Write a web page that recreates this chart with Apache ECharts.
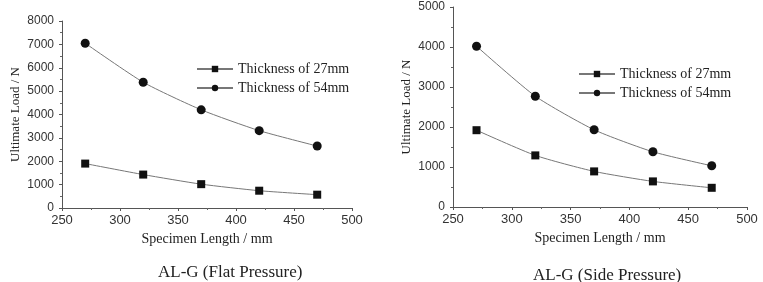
<!DOCTYPE html>
<html>
<head>
<meta charset="utf-8">
<script src="https://cdn.jsdelivr.net/npm/echarts@6/dist/echarts.min.js"></script>
<style>
  html, body { margin: 0; padding: 0; background: #fff; }
  #chart { width: 763px; height: 282px; }
</style>
</head>
<body>
<div id="chart"></div>
<script>
const lengths = [270, 320, 370, 420, 470]
const flat27 = [1900, 1430, 1020, 740, 570]
const flat54 = [7050, 5380, 4200, 3310, 2650]
const side27 = [1920, 1290, 890, 640, 480]
const side54 = [4020, 2770, 1930, 1380, 1030]
const seriesNames = ['Thickness of 27mm', 'Thickness of 54mm']
const panelTitles = ['AL-G (Flat Pressure)', 'AL-G (Side Pressure)']

const serif = '"Liberation Serif", "Times New Roman", serif'
const sans = '"Liberation Sans", Arial, sans-serif'

const pairs = (ys) => lengths.map((x, i) => [x, ys[i]])

const makeX = (gridIndex) => ({
  type: 'value',
  gridIndex,
  min: 250,
  max: 500,
  interval: 50,
  name: 'Specimen Length / mm',
  nameLocation: 'middle',
  nameGap: 16,
  nameTextStyle: { fontFamily: serif, fontSize: 14, color: '#222' },
  axisLine: { lineStyle: { color: '#555', width: 1 } },
  axisTick: { length: 3, lineStyle: { color: '#555' } },
  minorTick: { show: true, splitNumber: 2, length: 2, lineStyle: { color: '#666' } },
  axisLabel: { fontFamily: sans, fontSize: 13, color: '#333', margin: 6 },
  splitLine: { show: false }
})

const makeY = (gridIndex, max, interval, gap) => ({
  type: 'value',
  gridIndex,
  min: 0,
  max,
  interval,
  name: 'Ultimate Load / N',
  nameLocation: 'middle',
  nameGap: gap,
  nameTextStyle: { fontFamily: serif, fontSize: 13, color: '#222' },
  axisLine: { show: true, lineStyle: { color: '#555', width: 1 } },
  axisTick: { length: 3, lineStyle: { color: '#555' } },
  minorTick: { show: true, splitNumber: 2, length: 2, lineStyle: { color: '#666' } },
  axisLabel: { fontFamily: sans, fontSize: 12, color: '#333', margin: 8, formatter: v => String(v) },
  splitLine: { show: false }
})

const makeSeries = (name, data, idx, symbol, size) => ({
  name,
  type: 'line',
  xAxisIndex: idx,
  yAxisIndex: idx,
  data: pairs(data),
  smooth: 0.2,
  symbol,
  symbolSize: size,
  lineStyle: { color: '#777', width: 1 },
  itemStyle: { color: '#111' }
})

const legendBase = {
  orient: 'vertical',
  itemWidth: 36,
  itemHeight: 8,
  itemGap: 5,
  textStyle: { fontFamily: serif, fontSize: 14, color: '#222' },
  selectedMode: false
}

const chart = echarts.init(document.getElementById('chart'))
chart.setOption({
  animation: false,
  title: [
    { text: panelTitles[0], left: 153, top: 259, textStyle: { fontFamily: serif, fontSize: 17, fontWeight: 'normal', color: '#222' } },
    { text: panelTitles[1], left: 528, top: 262, textStyle: { fontFamily: serif, fontSize: 17, fontWeight: 'normal', color: '#222' } }
  ],
  legend: [
    { ...legendBase, left: 191, top: 57, data: seriesNames },
    { ...legendBase, left: 573, top: 62, data: seriesNames }
  ],
  grid: [
    { left: 62, top: 21, width: 290, height: 187 },
    { left: 453, top: 7, width: 294, height: 200 }
  ],
  xAxis: [makeX(0), makeX(1)],
  yAxis: [makeY(0, 8000, 1000, 40), makeY(1, 5000, 1000, 40)],
  series: [
    makeSeries(seriesNames[0], flat27, 0, 'rect', 8),
    makeSeries(seriesNames[1], flat54, 0, 'circle', 9),
    makeSeries(seriesNames[0], side27, 1, 'rect', 8),
    makeSeries(seriesNames[1], side54, 1, 'circle', 9)
  ]
})
</script>
</body>
</html>
